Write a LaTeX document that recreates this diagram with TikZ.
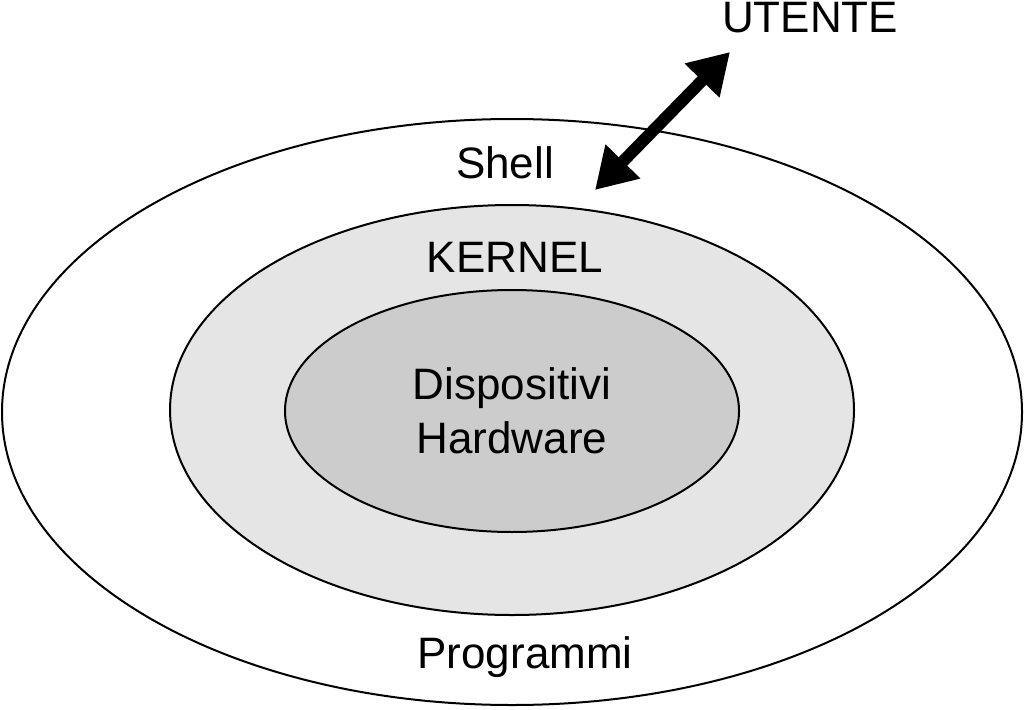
\documentclass[tikz,border=0pt]{standalone}
\usepackage{fontspec}
\setmainfont{Liberation Sans}
\usetikzlibrary{arrows.meta}
\begin{document}
\begin{tikzpicture}[x=1pt,y=-1pt,
  ring/.style={draw=black,line width=2pt},
  lab/.style={font=\fontsize{44}{50}\selectfont,inner sep=0pt}]
\useasboundingbox (0,0) rectangle (1024,709);
\draw[ring,fill=white] (512,412) ellipse [x radius=510,y radius=293];
\draw[ring,fill=black!10] (512,410) ellipse [x radius=342,y radius=205];
\draw[ring,fill=black!20] (512,411) ellipse [x radius=227,y radius=121];
\node[lab] (utente) at (810,18) {UTENTE};
\node[lab] (shell) at (505,163) {Shell};
\node[lab] (kernel) at (515,257) {KERNEL};
\node[lab,align=center] (hw) at (512,411) {Dispositivi\\[4pt]Hardware};
\node[lab] (prog) at (525,657) {Programmi};
\coordinate (a1) at (730,52);
\coordinate (a2) at (595,190);
\draw[line width=12pt,{Triangle[length=40pt,width=46pt]}-{Triangle[length=40pt,width=46pt]}] (a1) -- (a2);
\end{tikzpicture}
\end{document}
